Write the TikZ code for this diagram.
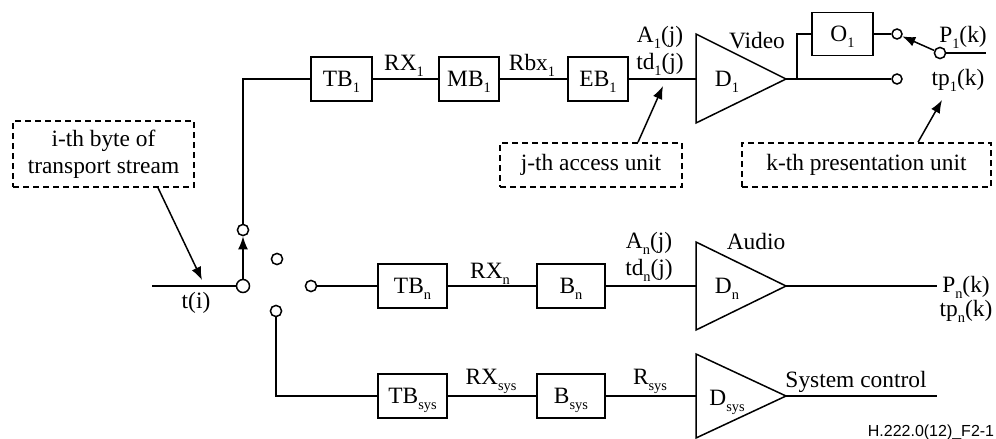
\documentclass[tikz,border=0pt]{standalone}
\usepackage{fontspec}
\setmainfont{Liberation Serif}
\newfontfamily\hsans{Liberation Sans}
\usetikzlibrary{arrows.meta}
\newcommand\sbs[1]{\raisebox{-0.55ex}{\fontsize{7.2}{8}\selectfont #1}}
\begin{document}
\begin{tikzpicture}[x=0.5pt,y=-0.5pt,line width=0.75pt,
  font=\fontsize{11.7}{13.5}\selectfont,
  box/.style={draw, fill=white, inner sep=0, minimum height=22pt, text height=7.7pt, text depth=0pt},
  note/.style={draw, dash pattern=on 3pt off 2pt, inner sep=0, minimum height=22pt, align=center},
  port/.style={circle, draw, fill=white, inner sep=0, minimum size=5.6pt},
  lab/.style={inner sep=0, text height=7.7pt, text depth=0pt},
  arr/.style={-{Latex[length=6.5pt,width=5pt]}}]
\useasboundingbox (0,0) rectangle (996,439);

% boxes
\node[box, minimum width=30.5pt] (tb1) at (341.5,79) {TB\sbs{1}};
\node[box, minimum width=30pt] (mb1) at (469,79) {MB\sbs{1}};
\node[box, minimum width=30pt] (eb1) at (598,79) {EB\sbs{1}};
\node[box, minimum width=30.5pt, minimum height=21.5pt] (o1) at (842.5,34) {O\sbs{1}};
\node[box, minimum width=34.5pt] (tbn) at (412.5,286) {TB\sbs{n}};
\node[box, minimum width=34pt] (bn) at (571,286) {B\sbs{n}};
\node[box, minimum width=34.5pt] (tbs) at (412.5,396) {TB\sbs{sys}};
\node[box, minimum width=34pt] (bs) at (571,396) {B\sbs{sys}};

% decoders
\draw (696,34) -- (786,79) -- (696,123) -- cycle;
\coordinate (d1a) at (696,79); \coordinate (d1o) at (786,79);
\node[lab] (d1) at (727,79) {D\sbs{1}};
\draw (696,242) -- (786,286) -- (696,330) -- cycle;
\coordinate (dna) at (696,286); \coordinate (dno) at (786,286);
\node[lab] (dn) at (727,286) {D\sbs{n}};
\draw (696,354) -- (786,396) -- (696,438) -- cycle;
\coordinate (dsa) at (696,396); \coordinate (dso) at (786,396);
\node[lab] (ds) at (727,398) {D\sbs{sys}};

% notes
\node[note, minimum width=90.5pt, minimum height=33pt] (nti) at (103.5,154) {i-th byte of\\transport stream};
\node[note, minimum width=91pt] (ntj) at (591,165) {j-th access unit};
\node[note, minimum width=124.5pt] (ntk) at (866.5,165) {k-th presentation unit};

% switch ports
\node[port, minimum size=6.5pt] (sw) at (243,286) {};
\node[port] (sT) at (243,230) {};
\node[port] (sA) at (277,259) {};
\node[port] (sB) at (311,286) {};
\node[port] (sC) at (276,311) {};
\node[port, minimum size=5pt] (vo) at (897,34) {};
\node[port, minimum size=5pt] (vd) at (897,79) {};
\node[port] (ps) at (940,53) {};

% coordinates
\coordinate (tin) at (152,286);
\coordinate (br) at (797,79);
\coordinate (p1end) at (986,53);
\coordinate (dnend) at (937,286);
\coordinate (dsend) at (937,396);
\coordinate (ta) at (202,280);
\coordinate (ja) at (663,86);
\coordinate (ka) at (942,100);

% connectors
\draw (tin) -- (sw);
\draw[arr] (sw) -- (sT);
\draw (sT) |- (tb1);
\draw (tb1) -- (mb1) -- (eb1) -- (d1a);
\draw (d1o) -- (vd);
\draw (br) |- (o1);
\draw (o1) -- (vo);
\draw (ps) -- (p1end);
\draw[arr] (ps) -- (vo);
\draw (sB) -- (tbn) -- (bn) -- (dna);
\draw (dno) -- (dnend);
\draw (sC) |- (tbs);
\draw (tbs) -- (bs) -- (dsa);
\draw (dso) -- (dsend);
\draw[arr] ([xshift=27.25pt]nti.south) -- (ta);
\draw[arr] ([xshift=23.5pt]ntj.north) -- (ja);
\draw[arr] ([xshift=25.75pt]ntk.north) -- (ka);

% labels
\node[lab] (l1) at (404,63) {RX\sbs{1}};
\node[lab] (l2) at (532,63) {Rbx\sbs{1}};
\node[lab] (l3) at (660,35) {A\sbs{1}(j)};
\node[lab] (l4) at (660,62) {td\sbs{1}(j)};
\node[lab] (l5) at (757,41) {Video};
\node[lab] (l6) at (963,35) {P\sbs{1}(k)};
\node[lab] (l7) at (958,78) {tp\sbs{1}(k)};
\node[lab] (l8) at (196,301) {t(i)};
\node[lab] (l9) at (490,271) {RX\sbs{n}};
\node[lab] (l10) at (649,241) {A\sbs{n}(j)};
\node[lab] (l11) at (649,268) {td\sbs{n}(j)};
\node[lab] (l12) at (756,242) {Audio};
\node[lab] (l13) at (966,285) {P\sbs{n}(k)};
\node[lab] (l14) at (966,309) {tp\sbs{n}(k)};
\node[lab] (l15) at (491,377) {RX\sbs{sys}};
\node[lab] (l16) at (650,377) {R\sbs{sys}};
\node[lab] (l17) at (856,380) {System control};
\node[inner sep=0, font=\hsans\fontsize{8}{9}\selectfont] (fig) at (931,432) {H.222.0(12)\_F2-1};
\end{tikzpicture}
\end{document}
